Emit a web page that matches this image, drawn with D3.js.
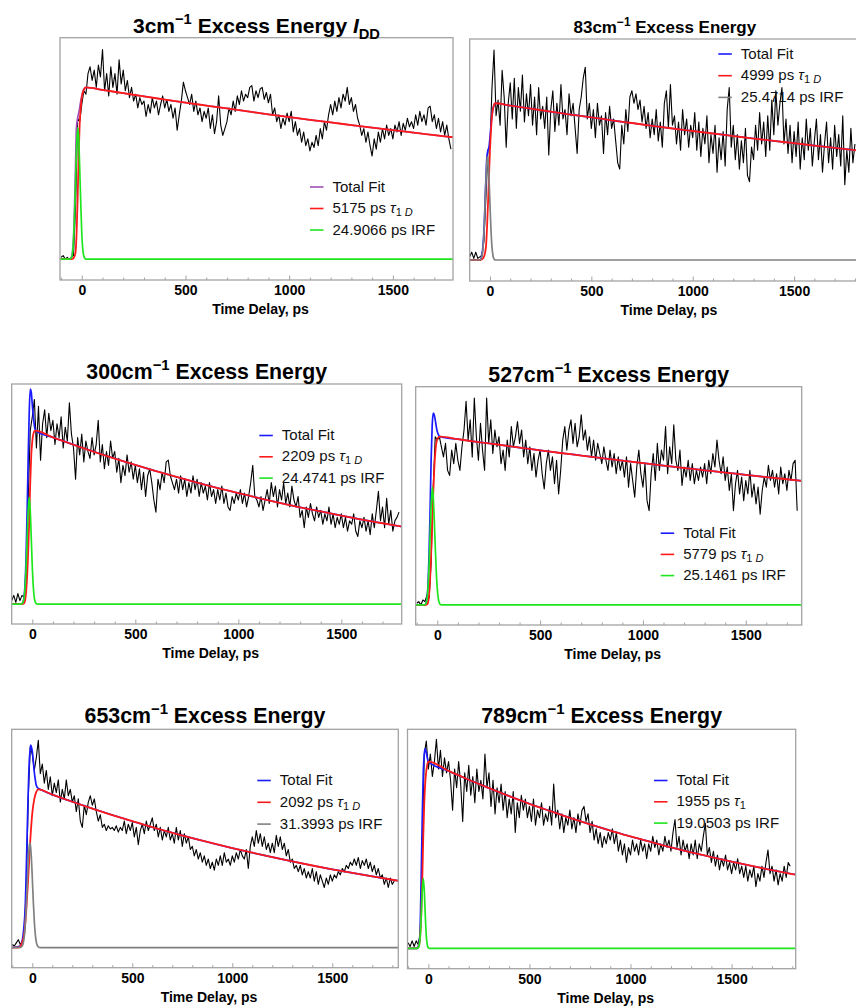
<!DOCTYPE html>
<html>
<head>
<meta charset="utf-8">
<script src="https://cdn.jsdelivr.net/npm/d3@7"></script>
<style>
  body { margin: 0; background: #fff; }
  svg { display: block; }
</style>
</head>
<body>
<svg id="chart" width="856" height="1008"></svg>
<script>
// ---------------------------------------------------------------
// Fluorescence decay traces at six excess energies.
// Each measured trace is sampled every TIME_STEP ps from TIME_START.
// Intensities are scaled so that the single-exponential fit peaks at 100.
// ---------------------------------------------------------------
const TIME_START = -100;
const TIME_STEP = 10;

const excessEnergies = [3, 83, 300, 527, 653, 789];
const tauValues = [5175, 4999, 2209, 5779, 2092, 1955];
const tauSubscripts = [["1", "D"], ["1", "D"], ["1", "D"], ["1", "D"], ["1", "D"], ["1", ""]];
const irfWidths = ["24.9066", "25.4714", "24.4741", "25.1461", "31.3993", "19.0503"];
const xTickValues = [0, 500, 1000, 1500];
const xLabel = "Time Delay, ps";

// measured counts (normalised)
const data3 = [
  1,2,0,1,0,1,2,30,82,80,
  90,98,96,108,112,104,110,100,113,106,
  122,98,108,95,112,100,108,96,116,102,
  110,98,104,94,100,92,96,88,94,90,
  92,83,90,85,94,88,92,84,90,95,
  88,93,86,90,82,88,75,84,92,103,
  98,94,90,96,86,92,84,88,80,86,
  82,88,76,84,73,80,95,78,72,76,
  80,88,84,92,86,95,90,98,92,96,
  94,100,101,92,98,94,99,100,93,97,
  91,96,84,88,80,84,76,82,78,85,
  80,86,74,80,72,76,68,74,66,70,
  63,68,65,72,66,76,70,80,75,84,
  90,84,92,86,94,88,96,92,100,90,
  94,86,90,82,78,72,76,68,74,66,
  60,70,64,74,68,76,70,78,72,76,
  70,78,74,80,72,79,75,82,77,80,
  76,84,78,86,80,84,78,88,89,80,
  84,76,82,74,80,72,78,70,64
];
const data83 = [
  2,5,1,5,1,2,3,12,40,70,
  72,110,134,92,102,86,121,104,72,100,
  113,90,116,84,110,95,118,88,106,92,
  112,86,104,80,110,90,98,84,104,67,
  96,108,82,100,86,112,90,96,80,106,
  92,100,84,68,96,104,116,123,90,100,
  84,96,78,100,86,92,68,94,80,98,
  84,90,76,62,58,86,74,96,82,104,
  108,100,106,96,102,88,98,84,94,78,
  90,80,96,76,88,72,100,108,84,112,
  86,92,74,88,70,96,80,90,72,86,
  78,94,70,88,66,84,74,92,62,80,
  68,86,56,78,64,82,60,96,110,72,
  86,64,80,58,76,62,84,54,50,72,
  64,86,70,94,74,88,66,92,70,102,
  80,108,86,100,110,74,90,68,86,62,
  82,66,88,58,78,64,90,70,84,60,
  76,90,64,80,56,74,88,62,78,58,
  86,66,80,60,92,48,70,56,84,62,74
];
const data300 = [
  2,5,1,6,2,5,4,10,60,100,
  108,118,90,114,83,104,112,96,110,100,
  106,92,104,96,108,90,102,94,116,98,
  90,72,96,86,98,82,94,88,84,96,
  86,92,106,82,92,78,88,80,94,84,
  88,76,84,70,80,74,86,76,82,72,
  80,70,78,66,76,62,74,78,70,60,
  53,72,66,76,70,82,83,74,70,66,
  72,64,74,66,72,62,70,64,74,66,
  72,62,70,64,68,60,70,62,66,58,
  66,60,68,58,64,56,54,62,58,64,
  60,66,58,64,56,62,70,80,62,60,
  56,62,54,60,66,58,70,62,68,56,
  66,60,70,58,64,56,68,60,56,62,
  50,54,44,56,50,58,52,48,56,50,
  54,46,52,48,56,46,52,44,50,46,
  52,44,50,42,48,46,52,42,39,48,
  44,50,42,48,40,52,44,54,65,48,
  56,44,61,46,54,42,48,50,53
];
const data527 = [
  1,2,0,3,2,6,4,25,70,100,
  98,100,94,88,96,80,77,92,84,96,
  86,80,94,104,121,98,110,88,123,100,
  86,108,92,80,123,96,110,90,104,94,
  100,84,92,80,98,88,106,94,100,109,
  96,104,88,98,84,94,80,90,76,86,
  92,78,69,84,92,80,88,72,86,66,
  80,98,106,92,104,110,96,108,94,100,
  113,98,104,92,100,88,98,86,96,90,
  84,94,86,80,92,82,90,78,88,80,
  86,76,88,70,84,74,64,82,92,78,
  70,84,62,56,78,90,74,96,80,92,
  86,106,78,94,84,107,86,80,92,71,
  82,76,86,74,84,72,80,74,82,76,
  84,72,86,78,90,82,98,86,78,88,
  74,82,68,78,56,72,80,66,76,62,
  74,66,80,64,72,60,70,54,68,76,
  70,83,74,80,70,78,66,82,72,78,
  68,80,74,84,86,56
];
const data653 = [
  2,1,3,5,2,4,10,40,95,127,
  122,112,120,131,110,116,104,112,100,108,
  96,104,98,106,92,100,94,106,96,100,
  92,96,86,94,80,76,90,84,92,96,
  90,94,86,80,84,76,78,74,77,75,
  76,74,77,73,76,74,80,72,78,74,
  79,70,76,65,74,78,72,80,74,78,
  82,74,78,70,76,68,74,70,76,68,
  72,66,76,68,74,64,72,66,70,62,
  64,58,62,56,60,54,58,52,56,50,
  54,49,56,52,58,52,60,54,56,52,
  58,54,60,56,62,58,56,62,50,64,
  70,64,74,66,72,64,70,62,66,60,
  66,60,71,64,70,62,66,58,62,54,
  56,50,52,48,52,46,50,44,48,44,
  50,42,48,40,46,42,38,44,40,46,
  42,46,44,48,46,50,48,52,50,54,
  52,56,52,57,50,55,52,56,50,54,
  48,52,46,50,44,46,40,44,38,44,40,42
];
const data789 = [
  3,1,4,1,4,2,8,50,104,111,
  96,104,92,100,112,96,106,92,102,94,
  100,90,74,96,86,100,88,68,94,84,
  98,82,92,78,96,84,90,80,104,86,
  94,76,90,72,86,78,88,74,84,70,
  80,72,84,62,78,70,82,74,80,70,
  76,68,80,66,74,70,78,66,72,68,
  76,66,88,70,74,64,72,62,70,66,
  74,64,70,62,72,66,74,76,68,72,
  62,68,58,64,56,62,54,60,56,62,
  58,64,56,62,52,58,50,56,46,54,
  50,58,52,56,50,58,52,56,48,56,
  52,60,54,58,50,56,52,60,54,58,
  52,62,69,54,60,50,58,52,56,48,
  56,50,58,48,56,52,60,67,50,54,
  46,52,44,50,42,48,44,50,42,46,
  40,46,42,48,40,44,38,44,36,42,
  38,44,33,40,36,44,38,46,52.7,40,
  44,36,42,34,40,36,44,38,46,44
];

// single-exponential fit component [time ps, intensity]
const decay3 = [[-105,0],[-50,0],[-40,0.5],[-30,4],[-25,15],[-20,35],[-15,60],[-10,79],[-5,88],[0,94],[10,98.5],[20,100],
  [100,98.5],[200,96.6],[300,94.7],[400,92.9],[500,91.1],[600,89.4],[700,87.7],[800,86],[900,84.3],[1000,82.7],
  [1100,81.1],[1200,79.6],[1300,78],[1400,76.5],[1500,75.1],[1600,73.6],[1700,72.2],[1800,70.8]];
const decay83 = [[-105,0],[-50,0],[-40,0.5],[-30,2],[-20,8],[-10,35],[0,70],[10,92],[20,99],[25,100],
  [100,98.5],[200,96.6],[300,94.6],[400,92.8],[500,91],[600,89.1],[700,87.4],[800,85.6],[900,83.9],[1000,82.3],
  [1100,80.7],[1200,79.1],[1300,77.5],[1400,76],[1500,74.5],[1600,73],[1700,71.5],[1800,70.1],[1830,69.7]];
const decay300 = [[-105,0],[-50,0],[-40,0.5],[-35,2],[-30,7],[-25,16],[-20,30],[-15,48],[-10,70],[-5,86],[0,94],[5,98],[13,100],
  [100,96.1],[200,91.9],[300,87.8],[400,83.9],[500,80.2],[600,76.7],[700,73.3],[800,70],[900,66.9],[1000,64],
  [1100,61.1],[1200,58.4],[1300,55.8],[1400,53.4],[1500,51],[1600,48.7],[1700,46.6],[1800,44.5]];
const decay527 = [[-105,0],[-55,0],[-50,0.3],[-45,1.5],[-40,6],[-35,15],[-30,30],[-25,48],[-20,65],[-15,80],[-10,90],[-5,96],[0,98.5],[8,99.8],[13,100],
  [100,98.5],[200,96.8],[300,95.2],[400,93.5],[500,91.9],[600,90.3],[700,88.8],[800,87.3],[900,85.8],[1000,84.3],
  [1100,82.8],[1200,81.4],[1300,80],[1400,78.7],[1500,77.3],[1600,76],[1700,74.7],[1800,73.4]];
const decay653 = [[-105,0],[-70,0],[-60,0.8],[-50,3.5],[-40,9],[-30,24],[-20,45],[-10,68],[0,85],[10,94],[20,98.5],[30,100],
  [100,96.7],[200,92.2],[300,87.9],[400,83.8],[500,79.9],[600,76.1],[700,72.6],[800,69.2],[900,66],[1000,62.9],
  [1100,60],[1200,57.2],[1300,54.5],[1400,51.9],[1500,49.5],[1600,47.2],[1700,45],[1800,42.9],[1840,42]];
const decay789 = [[-105,0],[-55,0],[-50,0.5],[-45,2],[-40,7],[-35,18],[-30,36],[-25,60],[-20,78],[-15,89],[-10,95],[-5,98.5],[0,100],
  [100,95],[200,90.3],[300,85.8],[400,81.5],[500,77.4],[600,73.6],[700,69.9],[800,66.4],[900,63.1],[1000,59.9],
  [1100,57],[1200,54.1],[1300,51.4],[1400,48.9],[1500,46.4],[1600,44.1],[1700,41.9],[1800,39.8],[1820,39.4]];

// instrument response function [time ps, intensity]
const irf3 = [[-105,0],[-60,0],[-50,0.6],[-45,3],[-40,10.7],[-35,25],[-30,44.7],[-25,65],[-19,76.5],[-15,71],[-10,53],[-5,33],[0,15.3],[5,5.5],[10,1.8],[15,0.4],[20,0],[1800,0]];
const irf83 = [[-105,0],[-50,0],[-45,0.6],[-40,2.3],[-35,6.5],[-30,16],[-25,32],[-20,50],[-15,63],[-12,66],[-10,65],[-5,53.5],[0,35.5],[5,19],[10,8.2],[15,2.7],[20,0.7],[25,0],[1830,0]];
const irf300 = [[-105,0],[-55,0],[-50,0.2],[-45,1],[-40,3.4],[-35,9.7],[-30,21.5],[-25,38],[-20,54],[-15,61.5],[-10,54],[-5,38],[0,21.5],[5,9.7],[10,3.4],[15,1],[20,0.2],[25,0],[1800,0]];
const irf527 = [[-105,0],[-65,0],[-60,0.2],[-55,1],[-50,3.7],[-45,10.5],[-40,23],[-35,41],[-30,59],[-24,70],[-20,65],[-15,51.5],[-10,35],[-5,20],[0,9.5],[5,3.8],[10,1.2],[15,0.3],[20,0],[1800,0]];
const irf653 = [[-105,0],[-60,0.1],[-50,1.1],[-45,3],[-40,7.2],[-35,14.8],[-30,26.4],[-25,41],[-20,55],[-15,64.3],[-12,66],[-10,65.3],[-5,57.5],[0,44.2],[5,29.2],[10,16.8],[15,8.4],[20,3.6],[25,1.4],[30,0.5],[40,0],[1840,0]];
const irf789 = [[-105,0],[-55,0],[-50,0.3],[-45,1.8],[-40,6.7],[-35,17.5],[-30,31],[-25,37.5],[-20,31],[-15,17.5],[-10,6.7],[-5,1.8],[0,0.3],[5,0],[1820,0]];

// total fit near time zero; beyond these points it follows the decay component
const total3 = [[-105,0],[-60,0],[-50,1],[-40,12],[-35,30],[-30,55],[-26,76],[-20,82],[-13,86],[-5,92],[0,95],[10,99],[20,100]];
const total83 = [[-105,0],[-50,0],[-40,3],[-30,18],[-20,52],[-15,66],[-10,70],[-5,72],[0,78],[10,93],[20,99],[25,100]];
const total300 = [[-105,0],[-55,0],[-50,0.2],[-45,1],[-40,4],[-35,12],[-30,28],[-25,54],[-20,84],[-15,110],[-10,124],[-5,122],[0,115],[5,108],[10,103],[13,101],[20,99.7]];
const total527 = [[-105,0],[-60,0],[-55,1],[-50,4],[-45,12],[-40,30],[-35,56],[-30,86],[-25,106],[-20,114],[-15,113],[-10,110],[-5,106],[0,103],[8,100.5],[13,100]];
const total653 = [[-105,0],[-60,1],[-50,4.5],[-45,9],[-40,16],[-35,26],[-30,50],[-25,76],[-20,100],[-15,118],[-10,126],[-8,128],[-5,127],[0,124],[5,118],[10,111],[15,106],[20,102.5],[30,100.6],[40,100]];
const total789 = [[-105,0],[-55,0],[-50,1],[-45,3],[-40,12],[-35,40],[-30,70],[-25,94],[-20,104],[-16,107],[-10,105],[-5,102],[0,100]];

// ---------------------------------------------------------------
// Panel layout and styling
// ---------------------------------------------------------------
const FONT = '"Liberation Sans", Arial, Helvetica, sans-serif';
const RED = "#ff1a1a", GREEN = "#1ee61e", BLUE = "#1a1aff", PURPLE = "#a050b8", GRAY = "#808080";
const FRAME = "#a3a3a3";

const panels = [
  { data: data3,   decay: decay3,   irf: irf3,   total: total3,   totalColor: PURPLE, irfColor: GREEN,
    frame: [60, 37.7, 453, 280],      xd: [-105, 1790], yd: [-12.2, 128.9], titleSize: 21, titleY: 33.3, titleExtra: true,
    legend: [310, 191.5, 21.5] },
  { data: data83,  decay: decay83,  irf: irf83,  total: total83,  totalColor: BLUE,   irfColor: GRAY,
    frame: [469.7, 39, 860, 281],     xd: [-100, 1825], yd: [-13.4, 141],   titleSize: 17, titleY: 33.3,
    legend: [718.3, 58.5, 21.7] },
  { data: data300, decay: decay300, irf: irf300, total: total300, totalColor: BLUE,   irfColor: GREEN,
    frame: [11.7, 384, 401.7, 624],   xd: [-100, 1793], yd: [-11.5, 126.9], titleSize: 21.3, titleY: 379.3,
    legend: [259.3, 440, 21.3] },
  { data: data527, decay: decay527, irf: irf527, total: total527, totalColor: BLUE,   irfColor: GREEN,
    frame: [415.7, 386.7, 801.7, 625], xd: [-105, 1772], yd: [-11.9, 129.7], titleSize: 21.3, titleY: 381.7,
    legend: [660.7, 537.7, 21.2] },
  { data: data653, decay: decay653, irf: irf653, total: total653, totalColor: BLUE,   irfColor: GRAY,
    frame: [11.7, 729.3, 398.3, 967.7], xd: [-103, 1830], yd: [-12.7, 138], titleSize: 21.3, titleY: 723.3,
    legend: [257.3, 785, 21.8] },
  { data: data789, decay: decay789, irf: irf789, total: total789, totalColor: BLUE,   irfColor: GREEN,
    frame: [407.5, 729.3, 795.7, 968.7], xd: [-103, 1817], yd: [-10.9, 117.3], titleSize: 21.3, titleY: 723.3,
    legend: [654, 785, 21.3] }
];

const svg = d3.select("#chart").attr("font-family", FONT);

panels.forEach((p, i) => {
  const [x0, y0, x1, y1] = p.frame;
  const x = d3.scaleLinear().domain(p.xd).range([x0, x1]);
  const y = d3.scaleLinear().domain(p.yd).range([y1, y0]);
  const g = svg.append("g").attr("class", "panel");

  const clipId = "clip" + i;
  svg.append("clipPath").attr("id", clipId)
    .append("rect").attr("x", x0).attr("y", y0).attr("width", x1 - x0).attr("height", y1 - y0);

  const plot = g.append("g").attr("clip-path", `url(#${clipId})`);

  const traceLine = d3.line().x((d, k) => x(TIME_START + k * TIME_STEP)).y(d => y(d));
  const fitLine = d3.line().x(d => x(d[0])).y(d => y(d[1])).curve(d3.curveMonotoneX);

  // measured trace
  plot.append("path").datum(p.data)
    .attr("d", traceLine).attr("fill", "none").attr("stroke", "#000")
    .attr("stroke-width", 1.1).attr("stroke-linejoin", "round");

  // total fit = rising edge points followed by the decay tail
  const lastT = p.total[p.total.length - 1][0];
  const totalCurve = p.total.concat(p.decay.filter(d => d[0] > lastT));
  plot.append("path").datum(totalCurve)
    .attr("d", fitLine).attr("fill", "none").attr("stroke", p.totalColor).attr("stroke-width", 1.7);

  plot.append("path").datum(p.decay)
    .attr("d", fitLine).attr("fill", "none").attr("stroke", RED).attr("stroke-width", 1.8);

  plot.append("path").datum(p.irf)
    .attr("d", fitLine).attr("fill", "none").attr("stroke", p.irfColor).attr("stroke-width", 1.7);

  // frame
  g.append("rect").attr("x", x0).attr("y", y0).attr("width", x1 - x0).attr("height", y1 - y0)
    .attr("fill", "none").attr("stroke", FRAME).attr("stroke-width", 1.3);

  // bottom axis: labelled major ticks and unlabelled minor ticks, drawn inward
  const minor = d3.range(-100, p.xd[1] + 1, 100).filter(v => v % 500 !== 0 && v > p.xd[0]);
  const minorAxis = g.append("g").attr("transform", `translate(0,${y1})`)
    .call(d3.axisBottom(x).tickValues(minor).tickFormat("").tickSizeInner(-2.5).tickSizeOuter(0));
  minorAxis.select(".domain").remove();
  minorAxis.selectAll(".tick line").attr("stroke", FRAME);

  const majorAxis = g.append("g").attr("transform", `translate(0,${y1})`)
    .call(d3.axisBottom(x).tickValues(xTickValues).tickFormat(d3.format("d"))
      .tickSizeInner(-4.5).tickSizeOuter(0).tickPadding(5));
  majorAxis.attr("font-family", FONT);
  majorAxis.select(".domain").remove();
  majorAxis.selectAll(".tick line").attr("stroke", FRAME);
  majorAxis.selectAll(".tick text").attr("font-size", 14).attr("font-weight", "bold").attr("fill", "#000");

  g.append("text").attr("x", (x0 + x1) / 2 + 4).attr("y", y1 + 34)
    .attr("text-anchor", "middle").attr("font-size", 14).attr("font-weight", "bold").text(xLabel);

  // title with superscript unit and optional channel label
  const fs = p.titleSize;
  const title = g.append("text").attr("x", (x0 + x1) / 2).attr("y", p.titleY)
    .attr("text-anchor", "middle").attr("font-size", fs).attr("font-weight", "bold");
  title.append("tspan").text(excessEnergies[i] + "cm");
  title.append("tspan").attr("font-size", fs * 0.7).attr("dy", -fs * 0.42).text("\u22121");
  title.append("tspan").attr("dy", fs * 0.42).text(" Excess Energy");
  if (p.titleExtra) {
    title.append("tspan").text(" ");
    title.append("tspan").attr("font-style", "italic").text("I");
    title.append("tspan").attr("font-size", fs * 0.7).attr("dy", fs * 0.25).text("DD");
  }

  // legend
  const [lx, ly, ldy] = p.legend;
  const legendRows = [
    { color: p.totalColor, kind: "total" },
    { color: RED, kind: "tau" },
    { color: p.irfColor, kind: "irf" }
  ];
  legendRows.forEach((row, r) => {
    const by = ly + r * ldy;
    g.append("line").attr("x1", lx).attr("x2", lx + 13.5).attr("y1", by - 4.5).attr("y2", by - 4.5)
      .attr("stroke", row.color).attr("stroke-width", 1.6);
    const t = g.append("text").attr("x", lx + 22.5).attr("y", by).attr("font-size", 15).attr("fill", "#111");
    if (row.kind === "total") {
      t.text("Total Fit");
    } else if (row.kind === "tau") {
      t.append("tspan").text(tauValues[i] + " ps ");
      t.append("tspan").attr("font-style", "italic").text("\u03c4");
      const [s1, s2] = tauSubscripts[i];
      t.append("tspan").attr("font-size", 11).attr("dy", 3).text(s1);
      if (s2) t.append("tspan").attr("font-size", 11).attr("font-style", "italic").text(" " + s2);
    } else {
      t.text(irfWidths[i] + " ps IRF");
    }
  });
});
</script>
</body>
</html>
